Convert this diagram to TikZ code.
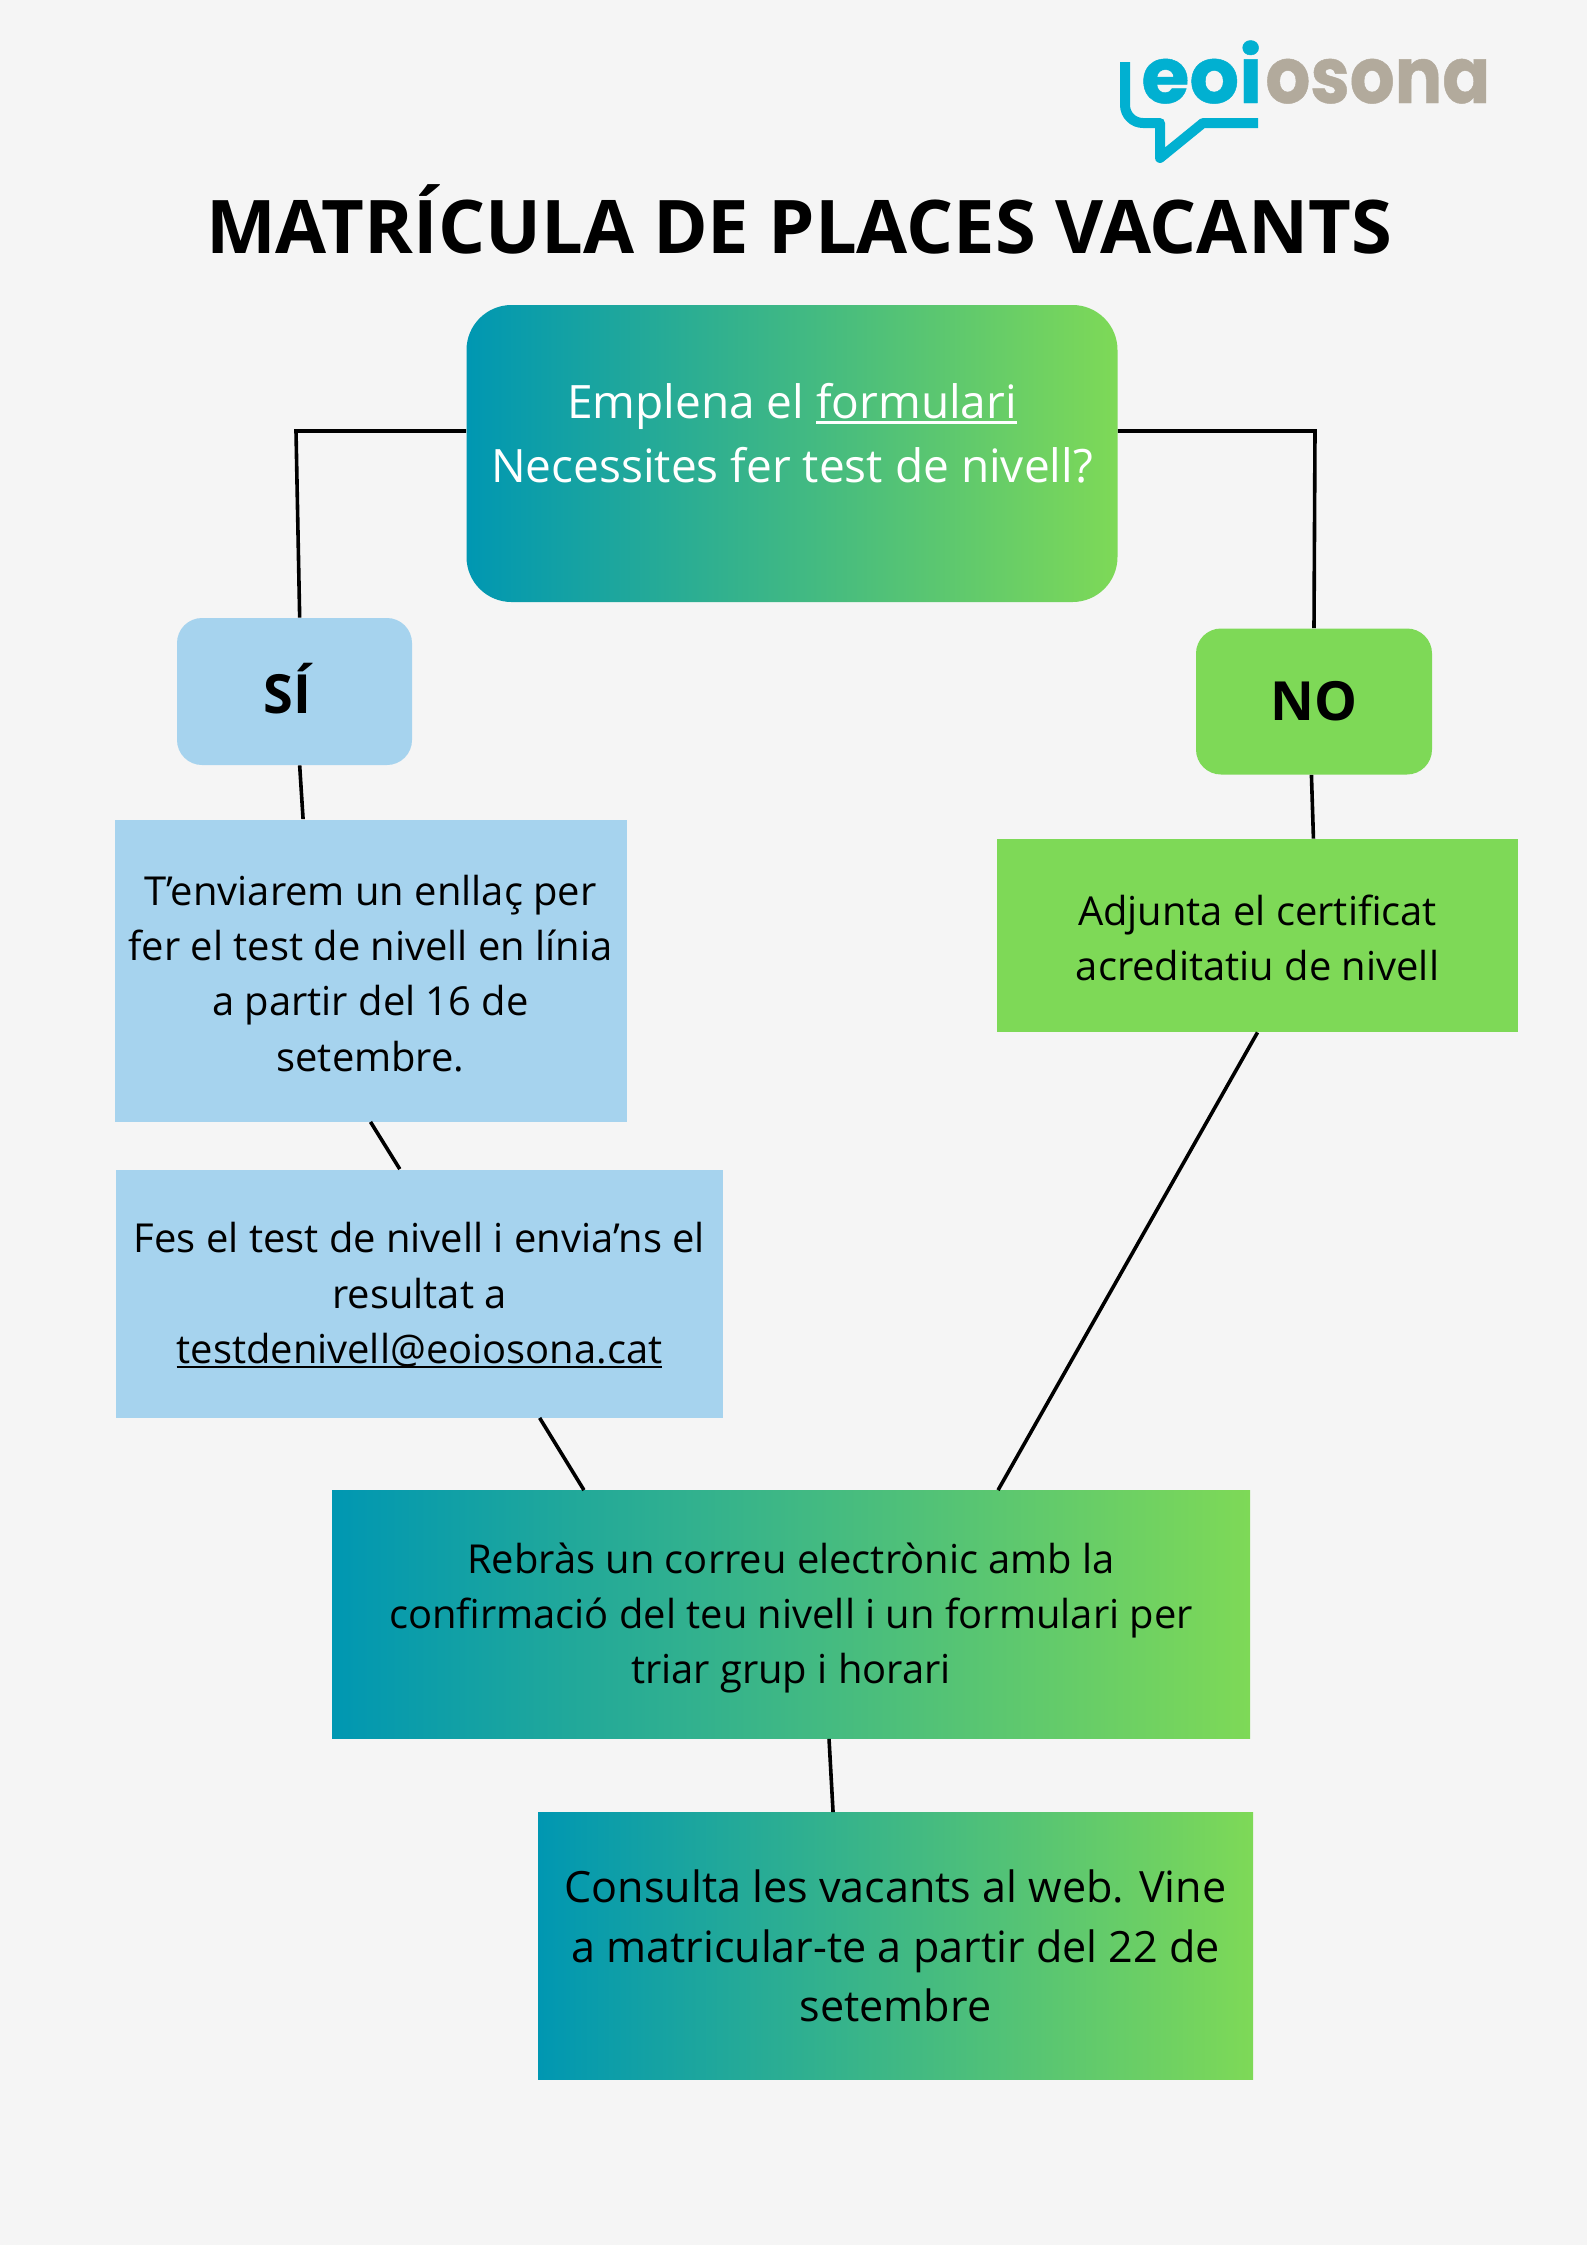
\documentclass[tikz,border=0pt]{standalone}
\usepackage{fontspec}
\setmainfont{Open Sans}
\newfontfamily\logofont[BoldFeatures={FakeBold=0.6}]{Poppins}
\definecolor{pagebg}{HTML}{F5F5F5}
\definecolor{gradl}{HTML}{0097B2}
\definecolor{gradr}{HTML}{7ED957}
\definecolor{paleblue}{HTML}{A6D3EE}
\definecolor{logoblue}{HTML}{01B0D1}
\definecolor{logogrey}{HTML}{B2AA9C}
\newcommand{\ulink}[1]{\setbox0\hbox{#1}\rlap{\rule[-0.12em]{\wd0}{0.06em}}\box0}
\newcommand{\lift}[1]{\rule{0pt}{#1pt}}
\tikzset{box/.style = {shape=rectangle, align=center, inner sep=0pt, text=black, font=\fontsize{19.95}{27.6}\selectfont}}
\tikzset{bluebox/.style = {box, fill=paleblue}}
\tikzset{greenbox/.style = {box, fill=gradr}}
\tikzset{gradbox/.style = {box, left color=gradl, right color=gradr}}
\tikzset{answer/.style = {box, rounded corners=12.5pt, font=\fontsize{27}{32}\selectfont\bfseries}}
\tikzset{conn/.style = {draw=black, line width=1.8pt}}
\tikzset{logotext/.style = {anchor=base west, inner sep=0pt, font=\fontsize{39}{39}\logofont\bfseries}}
\begin{document}
\begin{tikzpicture}[x=0.5pt, y=-0.5pt]
		\useasboundingbox (0,0) rectangle (1587,2245);
		\fill[pagebg] (0,0) rectangle (1587,2245);
		% Logo
		\draw[logoblue, line width=5pt, line join=round] (1125,62) [rounded corners=9pt] -- (1125,123) [sharp corners] -- (1160,123) -- (1160,158) -- (1203,123) -- (1258,123);
		\node[logotext, text=logoblue] (eoi) at (1141,103) {eoi};
		\node[logotext, text=logogrey] (osona) at (1265,103) {\scalebox{0.905}[1]{osona}};
		% Title
		\node[anchor=base, inner sep=0pt, font=\fontsize{37}{37}\selectfont\bfseries] (title) at (799,253) {MATRÍCULA DE PLACES VACANTS};
		% Nodes
		\node[gradbox, rounded corners=22.5pt, minimum width=325.5pt, minimum height=148.5pt, text=white, font=\fontsize{23}{32}\selectfont] (main) at (792,453.5) {Emplena el \ulink{formulari}\\Necessites fer test de nivell?\\[-11pt]\mbox{}};
		\node[answer, fill=paleblue, minimum width=117.5pt, minimum height=73.5pt] (si) at (294.5,691.5) {\raisebox{2.8pt}{SÍ}\hspace{7pt}};
		\node[answer, fill=gradr, minimum width=118pt, minimum height=73pt] (no) at (1314,701.5) {NO};
		\node[bluebox, minimum width=256pt, minimum height=151pt] (test) at (370.5,970.5) {\lift{18}T’enviarem un enllaç per\\fer el test de nivell en línia\\a partir del 16 de\\setembre.};
		\node[bluebox, minimum width=303.5pt, minimum height=124pt] (result) at (419.5,1293.5) {\lift{17}Fes el test de nivell i envia’ns el\\resultat a\\\ulink{testdenivell@eoiosona.cat}};
		\node[greenbox, minimum width=260.5pt, minimum height=96.5pt] (cert) at (1257.5,935.5) {\lift{18}Adjunta el certificat\\acreditatiu de nivell};
		\node[gradbox, minimum width=459pt, minimum height=124pt] (mail) at (791,1614.5) {\lift{19}Rebràs un correu electrònic amb la\\confirmació del teu nivell i un formulari per\\triar grup i horari};
		\node[gradbox, minimum width=357.5pt, minimum height=133.5pt, font=\fontsize{21.55}{29.7}\selectfont] (web) at (895.5,1946) {Consulta les vacants al web. Vine\\a matricular-te a partir del 22 de\\setembre};
		\coordinate (kneel) at (296,431);
		\coordinate (kneer) at (1315,431);
		% Lines
		\draw[conn, line join=miter] (main.west |- kneel) -- (kneel) -- (si.86.5);
		\draw[conn, line join=miter] (main.east |- kneer) -- (kneer) -- (no.north);
		\foreach \from/\to in {si.274.3/test.114.25, test.south/result.99.8, result.314.4/mail.149.1, no.268.4/cert.60.5, cert.south/mail.31, mail.287/web.115.5}
			\draw[conn] (\from) -- (\to);
\end{tikzpicture}
\end{document}
